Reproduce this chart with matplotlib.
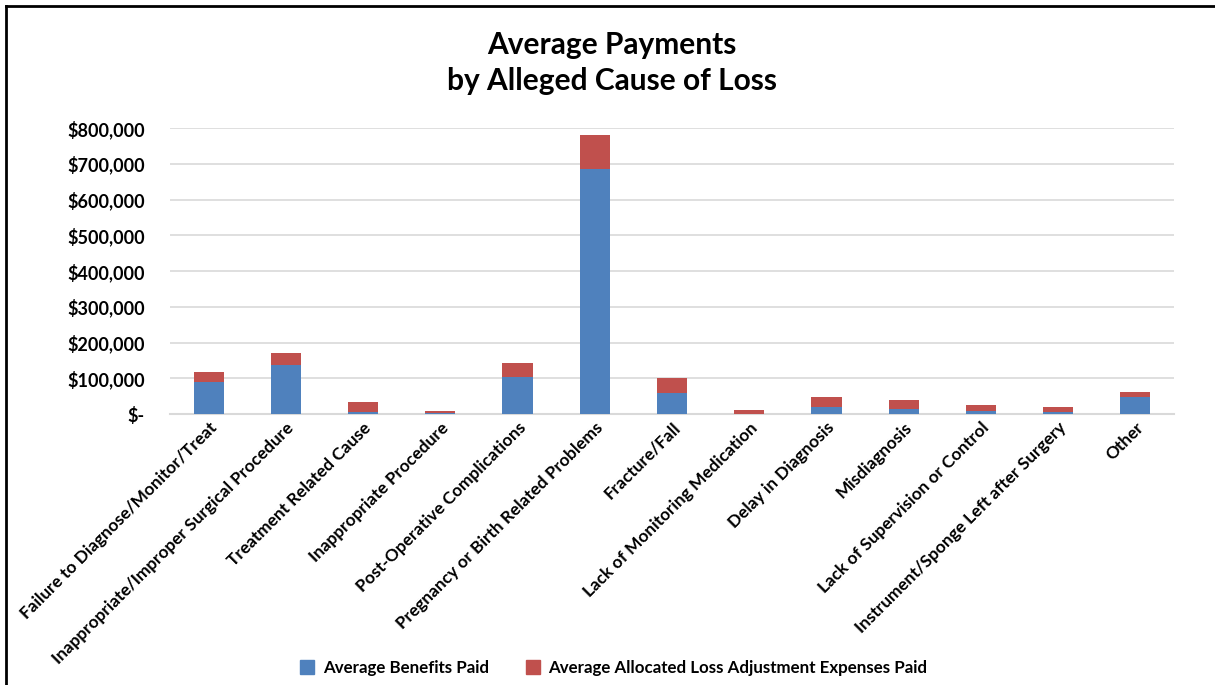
import matplotlib
matplotlib.use("Agg")
import matplotlib.pyplot as plt
from matplotlib.lines import Line2D
from matplotlib.ticker import FuncFormatter

plt.rcParams['font.family'] = ['Lato', 'DejaVu Sans']

categories = [
    "Failure to Diagnose/Monitor/Treat",
    "Inappropriate/Improper Surgical Procedure",
    "Treatment Related Cause",
    "Inappropriate Procedure",
    "Post-Operative Complications",
    "Pregnancy or Birth Related Problems",
    "Fracture/Fall",
    "Lack of Monitoring Medication",
    "Delay in Diagnosis",
    "Misdiagnosis",
    "Lack of Supervision or Control",
    "Instrument/Sponge Left after Surgery",
    "Other",
]
benefits = [90000, 138000, 5500, 3700, 104000, 684000, 58000, 1000, 18500, 13000, 9300, 4600, 46500]
expenses = [28000, 32500, 28000, 5600, 38500, 96000, 43000, 9300, 29000, 25000, 15000, 15000, 15000]
yticks = [0, 100000, 200000, 300000, 400000, 500000, 600000, 700000, 800000]
series_names = ["Average Benefits Paid", "Average Allocated Loss Adjustment Expenses Paid"]
colors = ["#4f81bd", "#c0504d"]

fig = plt.figure(figsize=(12.15, 6.85), dpi=100)
ax = fig.add_axes([170/1215, 1-414/685, (1174-170)/1215, (414-128)/685])

x = list(range(len(categories)))
w = 0.39
ax.bar(x, benefits, width=w, color=colors[0], label=series_names[0], zorder=3)
ax.bar(x, expenses, width=w, bottom=benefits, color=colors[1], label=series_names[1], zorder=3)

ax.set_xlim(-0.5, len(categories) - 0.5)
ax.set_ylim(0, 800000)
ax.set_yticks(yticks)

def fmt(v, pos):
    if v == 0:
        return "$-"
    return "${:,.0f}".format(v)

ax.yaxis.set_major_formatter(FuncFormatter(fmt))
ax.grid(axis='y', color='#d9d9d9', linewidth=1.2, zorder=0)
for s in ['top', 'right', 'left']:
    ax.spines[s].set_visible(False)
ax.spines['bottom'].set_color('#d9d9d9')
ax.spines['bottom'].set_linewidth(1.5)
ax.tick_params(axis='both', length=0)
ax.tick_params(axis='y', pad=18)
ax.tick_params(axis='x', pad=4)
ax.set_xticks(x)
ax.set_xticklabels(categories, rotation=45, ha='right', va='top', rotation_mode='anchor',
                   fontsize=12.4, fontweight='bold')
for lbl in ax.get_yticklabels():
    lbl.set_fontsize(13)
    lbl.set_fontweight('bold')

fig.text(612/1215, 1-63/685, "Average Payments\nby Alleged Cause of Loss", ha='center', va='center',
         fontsize=21.5, fontweight='bold', linespacing=1.35)

handles = [Line2D([], [], marker='s', linestyle='none', markersize=9.5, color=c) for c in colors]
fig.legend(handles, series_names, loc='center', bbox_to_anchor=(613/1215, 1-668/685), ncol=2,
           frameon=False, prop={'size': 12.2, 'weight': 'bold'}, handlelength=1.0,
           handletextpad=0.4, columnspacing=2.1)

# outer frame (left and top edges visible)
fig.add_artist(Line2D([6/1215, 6/1215], [0, 1-6/685], color='black', linewidth=2, transform=fig.transFigure))
fig.add_artist(Line2D([6/1215, 1], [1-6/685, 1-6/685], color='black', linewidth=2, transform=fig.transFigure))

fig.savefig("out.png", dpi=100)
